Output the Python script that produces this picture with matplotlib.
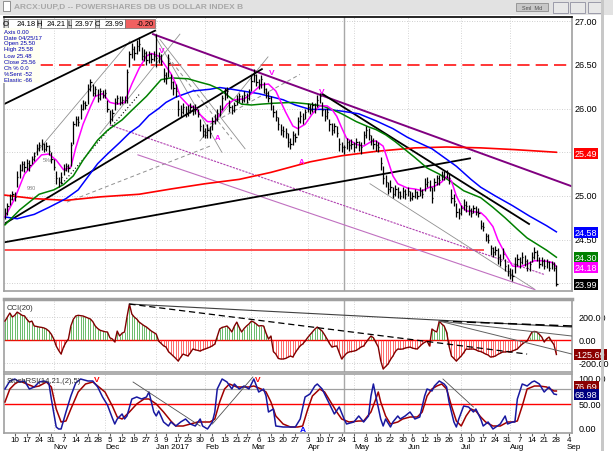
import numpy as np
import matplotlib.pyplot as plt
from matplotlib.patches import Rectangle

plt.rcParams['font.family'] = ['Liberation Sans', 'DejaVu Sans']

W, H = 613, 452

# daily bars: index 0 = 4 Oct 2016 ... 226 = 28 Aug 2017
close = [24.80, 24.88, 24.97, 25.02, 24.99, 25.22, 25.30, 25.36, 25.33, 25.38,
         25.35, 25.42, 25.46, 25.55, 25.58, 25.60, 25.54, 25.57, 25.52, 25.42,
         25.33, 25.20, 25.16, 25.22, 25.30, 25.34, 25.32, 25.58, 25.82, 25.88,
         25.85, 26.00, 26.06, 26.04, 26.22, 26.30, 26.18, 26.22, 26.12, 26.20,
         26.16, 26.18, 26.00, 25.88, 25.95, 26.08, 26.12, 26.08, 26.10, 26.10,
         26.42, 26.62, 26.68, 26.64, 26.72, 26.74, 26.60, 26.63, 26.55, 26.62,
         26.57, 26.60, 26.58, 26.60, 26.54, 26.38, 26.35, 26.52, 26.30, 26.24,
         26.20, 26.00, 25.96, 26.02, 25.95, 25.98, 26.02, 25.97, 26.00, 25.94,
         25.80, 25.74, 25.70, 25.76, 25.72, 25.86, 25.88, 25.95, 26.00, 26.12,
         26.18, 26.20, 26.02, 25.98, 26.04, 26.10, 26.14, 26.10, 26.16, 26.12,
         26.18, 26.32, 26.38, 26.30, 26.28, 26.34, 26.22, 26.18, 26.12, 26.06,
         25.96, 25.90, 25.82, 25.76, 25.74, 25.72, 25.62, 25.60, 25.70, 25.68,
         25.86, 25.92, 25.88, 25.96, 26.02, 25.98, 26.04, 26.00, 26.10, 26.14,
         25.98, 25.92, 25.96, 25.82, 25.76, 25.80, 25.72, 25.60, 25.56, 25.56,
         25.62, 25.58, 25.60, 25.56, 25.62, 25.58, 25.56, 25.70, 25.76, 25.70,
         25.64, 25.60, 25.58, 25.56, 25.38, 25.20, 25.16, 25.08, 25.10, 25.02,
         25.08, 25.04, 25.00, 25.06, 25.02, 25.06, 24.98, 25.00, 25.04, 25.00,
         25.06, 25.02, 25.14, 25.16, 25.10, 24.98, 25.16, 25.20, 25.18, 25.24,
         25.22, 25.26, 25.20, 24.98, 24.94, 24.82, 24.80, 24.86, 24.90, 24.88,
         24.84, 24.80, 24.86, 24.82, 24.80, 24.66, 24.64, 24.54, 24.50, 24.40,
         24.36, 24.38, 24.30, 24.26, 24.34, 24.20, 24.14, 24.10, 24.08, 24.22,
         24.28, 24.24, 24.30, 24.26, 24.18, 24.22, 24.30, 24.36, 24.32, 24.22,
         24.26, 24.20, 24.24, 24.18, 24.22, 24.18, 23.99]
high = [24.86, 24.92, 25.02, 25.06, 25.05, 25.28, 25.36, 25.40, 25.40, 25.42,
        25.41, 25.46, 25.50, 25.59, 25.62, 25.65, 25.61, 25.62, 25.58, 25.50,
        25.42, 25.28, 25.22, 25.27, 25.36, 25.38, 25.37, 25.62, 25.86, 25.92,
        25.91, 26.05, 26.10, 26.09, 26.28, 26.34, 26.28, 26.26, 26.22, 26.24,
        26.21, 26.22, 26.10, 25.98, 26.00, 26.12, 26.15, 26.14, 26.14, 26.14,
        26.45, 26.66, 26.75, 26.72, 26.78, 26.82, 26.70, 26.68, 26.66, 26.66,
        26.64, 26.66, 26.85, 26.65, 26.62, 26.46, 26.42, 26.62, 26.40, 26.32,
        26.28, 26.10, 26.04, 26.06, 26.03, 26.04, 26.06, 26.04, 26.05, 26.00,
        25.88, 25.82, 25.78, 25.82, 25.80, 25.90, 25.94, 26.00, 26.04, 26.16,
        26.24, 26.25, 26.10, 26.04, 26.08, 26.15, 26.18, 26.16, 26.20, 26.18,
        26.22, 26.38, 26.45, 26.40, 26.34, 26.38, 26.30, 26.24, 26.20, 26.14,
        26.04, 25.98, 25.90, 25.82, 25.80, 25.78, 25.72, 25.66, 25.74, 25.72,
        25.90, 25.97, 25.95, 26.00, 26.06, 26.05, 26.08, 26.06, 26.15, 26.18,
        26.08, 26.00, 26.01, 25.88, 25.84, 25.84, 25.80, 25.66, 25.62, 25.58,
        25.66, 25.64, 25.65, 25.62, 25.66, 25.63, 25.62, 25.74, 25.80, 25.78,
        25.70, 25.66, 25.64, 25.62, 25.44, 25.34, 25.24, 25.16, 25.18, 25.10,
        25.12, 25.10, 25.06, 25.10, 25.08, 25.10, 25.06, 25.04, 25.08, 25.06,
        25.10, 25.08, 25.20, 25.22, 25.18, 25.10, 25.20, 25.24, 25.24, 25.28,
        25.28, 25.30, 25.26, 25.08, 25.02, 24.92, 24.86, 24.90, 24.96, 24.94,
        24.90, 24.86, 24.90, 24.88, 24.86, 24.72, 24.70, 24.58, 24.56, 24.44,
        24.42, 24.43, 24.40, 24.34, 24.40, 24.28, 24.22, 24.18, 24.16, 24.30,
        24.34, 24.30, 24.36, 24.32, 24.28, 24.26, 24.36, 24.42, 24.38, 24.30,
        24.30, 24.28, 24.28, 24.26, 24.26, 24.24, 24.21]
low = [24.74, 24.78, 24.90, 24.95, 24.94, 25.10, 25.20, 25.28, 25.27, 25.30,
       25.29, 25.36, 25.40, 25.47, 25.52, 25.53, 25.50, 25.52, 25.47, 25.38,
       25.30, 25.14, 25.10, 25.14, 25.24, 25.28, 25.27, 25.34, 25.60, 25.80,
       25.80, 25.88, 25.98, 25.99, 26.05, 26.20, 26.14, 26.14, 26.08, 26.10,
       26.12, 26.12, 25.96, 25.82, 25.86, 25.98, 26.05, 26.04, 26.05, 26.06,
       26.06, 26.48, 26.58, 26.56, 26.62, 26.66, 26.55, 26.54, 26.50, 26.52,
       26.52, 26.54, 26.47, 26.52, 26.50, 26.30, 26.28, 26.36, 26.22, 26.16,
       26.13, 25.92, 25.90, 25.94, 25.90, 25.92, 25.95, 25.93, 25.94, 25.90,
       25.74, 25.68, 25.66, 25.66, 25.66, 25.76, 25.82, 25.86, 25.92, 25.98,
       26.10, 26.12, 25.96, 25.94, 25.96, 26.04, 26.08, 26.06, 26.08, 26.06,
       26.10, 26.20, 26.30, 26.26, 26.22, 26.24, 26.18, 26.12, 26.08, 25.98,
       25.90, 25.86, 25.76, 25.70, 25.68, 25.66, 25.56, 25.54, 25.58, 25.62,
       25.70, 25.84, 25.82, 25.88, 25.96, 25.94, 25.96, 25.95, 26.02, 26.06,
       25.92, 25.86, 25.88, 25.74, 25.70, 25.72, 25.68, 25.52, 25.50, 25.48,
       25.54, 25.52, 25.54, 25.50, 25.55, 25.52, 25.48, 25.60, 25.66, 25.64,
       25.58, 25.54, 25.52, 25.50, 25.30, 25.14, 25.10, 25.02, 25.04, 24.98,
       25.00, 24.98, 24.96, 24.98, 24.96, 25.00, 24.94, 24.95, 24.98, 24.96,
       25.00, 24.98, 25.06, 25.10, 25.06, 24.92, 25.06, 25.12, 25.12, 25.18,
       25.18, 25.20, 25.14, 24.92, 24.88, 24.76, 24.74, 24.78, 24.84, 24.82,
       24.78, 24.76, 24.80, 24.78, 24.76, 24.62, 24.60, 24.48, 24.46, 24.32,
       24.30, 24.32, 24.22, 24.20, 24.28, 24.14, 24.08, 24.05, 24.03, 24.12,
       24.20, 24.18, 24.22, 24.20, 24.14, 24.14, 24.24, 24.28, 24.26, 24.18,
       24.20, 24.16, 24.18, 24.14, 24.16, 24.14, 23.97]

# moving averages at sample days
fast_i = [0, 4, 8, 12, 15, 18, 21, 24, 27, 29, 32, 35, 37, 40, 43, 46, 49, 52, 55, 58,
          60, 63, 65, 68, 70, 72, 75, 78, 80, 83, 86, 88, 91, 94, 98, 101, 105, 108, 111, 113,
          115, 118, 120, 123, 126, 129, 132, 134, 136, 138, 140, 144, 147, 150, 152, 155, 157, 159, 161, 165,
          168, 171, 174, 176, 179, 181, 183, 185, 187, 189, 192, 195, 197, 200, 202, 205, 208, 211, 214, 217,
          220, 223, 225, 226]
fast = [24.76, 24.97, 25.25, 25.38, 25.47, 25.48, 25.41, 25.30, 25.33, 25.55, 25.82, 26.02, 26.14, 26.17, 26.07, 26.05, 26.07, 26.28, 26.46, 26.60,
        26.63, 26.60, 26.52, 26.40, 26.28, 26.13, 26.04, 26.01, 25.93, 25.85, 25.85, 25.93, 26.05, 26.10, 26.11, 26.17, 26.27, 26.28, 26.20, 26.08,
        25.96, 25.80, 25.77, 25.82, 25.94, 26.03, 26.03, 25.99, 25.91, 25.78, 25.66, 25.59, 25.57, 25.62, 25.63, 25.57, 25.40, 25.23, 25.14, 25.09,
        25.08, 25.06, 25.10, 25.11, 25.16, 25.22, 25.17, 25.00, 24.89, 24.83, 24.82, 24.81, 24.76, 24.65, 24.50, 24.34, 24.20, 24.19, 24.22, 24.26,
        24.26, 24.25, 24.23, 24.19]
mid_i = [0, 6, 14, 20, 24, 28, 32, 38, 42, 48, 52, 58, 64, 68, 75, 80, 84, 88, 93, 97,
         101, 105, 110, 118, 125, 130, 134, 138, 144, 149, 152, 156, 160, 164, 168, 173, 178, 183, 188, 195,
         200, 205, 210, 214, 218, 222, 226]
mid = [24.67, 24.84, 25.02, 25.07, 25.13, 25.23, 25.41, 25.64, 25.75, 25.87, 25.98, 26.14, 26.33, 26.35, 26.34, 26.30, 26.27, 26.22, 26.11, 26.05,
       26.04, 26.05, 26.06, 26.07, 26.05, 26.03, 25.99, 25.94, 25.85, 25.79, 25.76, 25.70, 25.62, 25.53, 25.44, 25.32, 25.25, 25.16, 25.06, 24.98,
       24.87, 24.75, 24.62, 24.52, 24.45, 24.38, 24.30]
slow_i = [0, 5, 12, 18, 25, 30, 34, 38, 42, 47, 51, 55, 59, 63, 66, 70, 77, 84, 88, 93,
          104, 114, 119, 125, 132, 138, 145, 152, 159, 165, 168, 175, 181, 185, 191, 195, 201, 208, 215, 222,
          226]
slow = [24.76, 24.74, 24.79, 24.87, 24.97, 25.07, 25.22, 25.37, 25.48, 25.61, 25.72, 25.80, 25.92, 26.00, 26.07, 26.13, 26.20, 26.22, 26.24, 26.22,
        26.17, 26.10, 26.04, 25.99, 25.99, 25.97, 25.94, 25.86, 25.77, 25.67, 25.63, 25.54, 25.42, 25.34, 25.19, 25.10, 25.00, 24.89, 24.77, 24.66,
        24.59]
long_i = [0, 12, 25, 39, 55, 68, 82, 96, 109, 125, 138, 152, 168, 181, 195, 209, 226]
long_ma = [25.01, 24.97, 24.95, 24.99, 25.02, 25.08, 25.14, 25.19, 25.27, 25.39, 25.46, 25.51, 25.55, 25.56, 25.55, 25.53, 25.50]

# CCI(20), one value per day
cci = [165, 200, 235, 200, 215, 243, 230, 215, 210, 180, 156, 165, 122, 118, 113, 110, 105, 95, 78, 50,
       9, -52, -90, -122, -61, -20, 9, 122, 180, 209, 215, 212, 209, 200, 190, 183, 160, 122, 100, 85,
       78, 72, 70, 20, 9, -17, 78, 35, 60, 70, 200, 313, 226, 200, 183, 156, 140, 125, 113, 95,
       78, 65, 52, -9, -30, -50, -61, -100, -120, -139, -160, -183, -150, -122, -130, -139, -110, -78, -85, -90,
       -96, -85, -78, -70, -61, -50, -35, 30, 96, 110, 115, 122, 100, 70, 120, 156, 110, 70, 100, 122,
       140, 165, 156, 140, 122, 125, 122, 60, 9, 35, -100, -122, -160, -165, -165, -160, -150, -139, -148, -110,
       -78, -50, -35, -10, 20, 45, 70, 95, 113, 95, 78, 45, 9, -30, -61, -55, -52, -110, -165, -140,
       -115, -104, -100, -96, -90, -75, -60, -52, -20, 9, 35, 20, -20, -61, -180, -252, -230, -209, -170, -139,
       -100, -78, -80, -78, -70, -65, -61, -70, -75, -78, -55, -35, -20, -9, -52, 96, 80, 70, 165, 140,
       122, 70, -52, -139, -160, -183, -160, -139, -110, -78, -80, -78, -78, -85, -96, -100, -110, -122, -130, -148,
       -145, -139, -125, -115, -104, -104, -100, -104, -95, -85, -78, -55, -35, -20, -9, 30, 70, 75, 70, 50,
       26, -17, 10, 26, -10, -40, -125.69]

# Stoch RSI, read at sample days
k_i = [0, 2, 4, 6, 8, 10, 12, 14, 16, 18, 19, 21, 22, 23, 25, 27, 29, 31, 34, 36,
       38, 40, 42, 44, 45, 46, 48, 49, 50, 52, 54, 56, 58, 59, 61, 62, 63, 65, 67, 68,
       70, 72, 74, 76, 78, 80, 81, 83, 85, 86, 87, 89, 91, 93, 94, 96, 98, 100, 102, 104,
       106, 107, 108, 110, 111, 114, 117, 119, 121, 123, 125, 127, 128, 130, 132, 134, 135, 137, 139, 140,
       143, 145, 147, 149, 150, 151, 152, 154, 155, 156, 158, 159, 161, 162, 164, 166, 168, 170, 172, 173,
       175, 176, 178, 180, 181, 182, 184, 185, 186, 188, 190, 192, 193, 195, 196, 198, 200, 203, 205, 206,
       208, 209, 210, 212, 214, 216, 217, 219, 221, 223, 225, 226]
k_val = [80, 96, 100, 94, 96, 80, 84, 94, 96, 92, 60, 4, 0, 0, 34, 66, 92, 100, 96, 96,
         84, 64, 48, 22, 10, 20, 30, 20, 26, 60, 64, 60, 64, 74, 34, 26, 36, 14, 6, 14,
         6, 14, 20, 10, 6, 20, 6, 0, 14, 34, 80, 100, 94, 80, 90, 80, 86, 80, 100, 74,
         80, 66, 34, 40, 6, 4, 4, 4, 20, 64, 70, 86, 90, 80, 60, 40, 30, 44, 20, 10,
         14, 26, 14, 26, 66, 90, 66, 20, 6, 20, 4, 14, 26, 20, 26, 34, 20, 24, 66, 80,
         76, 86, 96, 90, 84, 54, 14, 4, 20, 46, 44, 34, 40, 20, 6, 14, 0, 10, 26, 10,
         14, 14, 60, 90, 86, 94, 96, 90, 74, 84, 70, 69]
d_i = [0, 2, 4, 6, 9, 12, 14, 17, 19, 21, 23, 25, 27, 30, 33, 36, 38, 41, 44, 46,
       48, 51, 54, 57, 59, 62, 65, 68, 70, 73, 76, 79, 81, 84, 86, 88, 90, 92, 95, 98,
       100, 102, 105, 107, 109, 111, 114, 117, 120, 122, 124, 126, 129, 131, 134, 136, 138, 141, 145, 147,
       150, 152, 153, 154, 156, 158, 161, 163, 166, 169, 171, 173, 175, 177, 179, 181, 183, 185, 187, 189,
       191, 193, 195, 197, 200, 203, 206, 208, 210, 212, 214, 217, 219, 222, 225, 226]
d_val = [54, 80, 90, 96, 90, 84, 86, 94, 84, 40, 14, 16, 40, 74, 90, 94, 86, 74, 46, 24,
         20, 34, 50, 60, 60, 50, 34, 16, 6, 6, 10, 14, 14, 14, 20, 54, 80, 90, 84, 84,
         84, 86, 80, 74, 54, 26, 10, 4, 4, 6, 38, 66, 80, 74, 50, 34, 20, 14, 16, 16,
         34, 60, 74, 54, 26, 10, 14, 20, 24, 24, 34, 66, 80, 86, 90, 80, 46, 16, 6, 26,
         40, 36, 24, 14, 6, 6, 14, 14, 16, 46, 80, 86, 86, 84, 76, 76]

# date axis
day_ticks = [4, 9, 14, 19, 24, 29, 34, 38, 43, 48, 53, 58, 62, 66, 71, 75, 80, 85, 90, 95,
             99, 104, 109, 114, 119, 124, 129, 133, 138, 143, 148, 153, 158, 163, 167, 172, 177, 182, 187, 191,
             196, 201, 206, 211, 216, 221, 226, 231]
day_labels = ['10', '17', '24', '31', '7', '14', '21', '28', '5', '12', '19', '27', '3', '9', '17', '23', '30', '6', '13', '21',
              '27', '6', '13', '20', '27', '3', '10', '17', '24', '1', '8', '16', '22', '30', '6', '12', '19', '26', '3', '10',
              '17', '24', '31', '7', '14', '21', '28', '4']
month_pos = [20, 41, 62, 82, 101, 124, 143, 165, 187, 207, 230]
month_names = ['Nov', 'Dec', 'Jan 2017', 'Feb', 'Mar', 'Apr', 'May', 'Jun', 'Jul', 'Aug', 'Sep']

# drawn trendlines: (x0, y0, x1, y1)
thick_black = [(-0.4, 26.05, 61.5, 26.89), (-0.4, 24.47, 190.6, 25.43),
               (-0.4, 24.68, 105.3, 26.45), (129.9, 26.17, 214.8, 24.68)]
purple_line = (60.7, 26.85, 232.4, 25.11)
violet_lines = [(43, 25.81, 221.3, 24.10), (54.5, 25.47, 217.2, 23.93)]
gray_lines = [(12.3, 25.48, 51.2, 26.77), (38.9, 25.71, 71.7, 26.85), (61.5, 26.83, 88.9, 25.50),
              (63.5, 26.79, 98.4, 25.54), (79.9, 25.63, 107.8, 26.59), (149.6, 25.14, 216.8, 23.94)]
gray_dashed = [(66.8, 26.59, 93.0, 25.65), (84.0, 25.82, 120.9, 26.39), (25.4, 24.93, 84.0, 25.57)]
black_dotted = [(23.4, 25.14, 55.3, 26.17)]
cci_lines = [(51, 313, 232.4, 113), (51, 313, 214, -122), (178, 165, 232.4, 122),
             (178, 165, 232.4, 35), (178, 165, 232.4, -122)]
stoch_lines = [(52.5, 94, 80, 6), (85, 10, 101.6, 104), (179.5, 100, 192, 44)]

x = np.arange(len(close))

fig = plt.figure(figsize=(W / 100, H / 100), dpi=100)
fig.patch.set_facecolor('white')


def fig_rect(x0, y0, x1, y1, **kw):
    fig.add_artist(Rectangle((x0 / W, 1 - y1 / H), (x1 - x0) / W, (y1 - y0) / H,
                             transform=fig.transFigure, **kw))


def fig_text(xp, yp, s, **kw):
    fig.text(xp / W, 1 - yp / H, s, **kw)


ax = fig.add_axes([4 / W, 1 - 292 / H, 568 / W, 274 / H])
ax_c = fig.add_axes([4 / W, 1 - 373 / H, 568 / W, 73 / H], sharex=ax)
ax_s = fig.add_axes([4 / W, 1 - 434 / H, 568 / W, 59 / H], sharex=ax)

ax.set_xlim(-0.4, 232.4)
ax.set_ylim(23.914, 27.046)
ax_c.set_ylim(-278, 357)
ax_s.set_ylim(-8, 110)

for a in (ax, ax_c, ax_s):
    a.set_yticks([])
    for s in a.spines.values():
        s.set_color('#A0A0A0')
        s.set_linewidth(1.2)
    for m in month_pos[:-1]:
        a.axvline(m, color='#C8C8C8', lw=0.6, ls=(0, (1, 2)), zorder=0)
    a.axvline(139, color='#A8A8A8', lw=1.0, zorder=1)
ax.spines['top'].set_color('black')
ax_c.spines['top'].set_linewidth(2.5)

# ---- price panel
for v in [24.0, 24.5, 25.0, 25.5, 26.0, 27.0]:
    ax.axhline(v, color='#C0C0C0', lw=0.6, ls=(0, (1, 2)), zorder=0)
ax.axhline(26.5, color='#FF0000', lw=1.1, dashes=(8, 4), zorder=2)
ax.hlines(24.385, -0.4, 196.5, color='#FF5050', lw=1.4, zorder=2)

for x0, y0, x1, y1 in gray_lines:
    ax.plot([x0, x1], [y0, y1], color='#909090', lw=0.6, zorder=2)
for x0, y0, x1, y1 in gray_dashed:
    ax.plot([x0, x1], [y0, y1], color='#909090', lw=0.7, ls=(0, (4, 3)), zorder=2)
for x0, y0, x1, y1 in black_dotted:
    ax.plot([x0, x1], [y0, y1], color='black', lw=0.8, ls=(0, (1, 2)), zorder=2)
ax.plot(violet_lines[0][::2], violet_lines[0][1::2], color='#B040B0', lw=0.8, ls=(0, (2, 1)), zorder=2)
ax.plot(violet_lines[1][::2], violet_lines[1][1::2], color='#C070C0', lw=0.8, zorder=2)
ax.plot(purple_line[::2], purple_line[1::2], color='#800080', lw=1.4, zorder=2)
for x0, y0, x1, y1 in thick_black:
    ax.plot([x0, x1], [y0, y1], color='black', lw=1.3, zorder=2)

ax.plot(long_i, long_ma, color='#FF0000', lw=1.2, zorder=4)
ax.plot(slow_i, slow, color='#0000FF', lw=1.1, zorder=4)
ax.plot(mid_i, mid, color='#008000', lw=1.1, zorder=4)
ax.plot(fast_i, fast, color='#FF00FF', lw=1.1, zorder=4)

ax.vlines(x, low, high, color='black', lw=0.9, zorder=5)
ax.hlines(close, x, x + 0.5, color='black', lw=0.9, zorder=5)

for xi, yi in [(64.3, 26.66), (109.4, 26.41), (129.9, 26.20)]:
    ax.text(xi, yi, 'V', color='#FF00FF', fontsize=6, fontweight='bold', ha='center', va='center', zorder=6)
for xi, yi in [(87.3, 25.67), (121.7, 25.39)]:
    ax.text(xi, yi, 'A', color='#FF00FF', fontsize=5.5, fontweight='bold', ha='center', va='center', zorder=6)
ax.text(11, 25.10, '980', color='#808080', fontsize=4, ha='center', va='center')
ax.text(17.5, 25.42, '5%r', color='#808080', fontsize=4, ha='center', va='center')

ytr = ax.get_yaxis_transform()
for v, s in [(27.0, '27.00'), (26.5, '26.50'), (26.0, '26.00'), (25.0, '25.00'), (24.5, '24.50')]:
    ax.text(1.005, v, s, transform=ytr, fontsize=6.5, va='center', ha='left', clip_on=False)
for v, s, c in [(25.49, '25.49', '#FF0000'), (24.58, '24.58', '#0000FF'), (24.30, '24.30', '#008000'),
                (24.18, '24.18', '#FF00FF'), (23.99, '23.99', 'black')]:
    ax.text(1.005, v, s, transform=ytr, fontsize=6.5, va='center', ha='left', color='white', clip_on=False,
            bbox=dict(boxstyle='square,pad=0.12', fc=c, ec='none'))
ax.tick_params(axis='x', bottom=False, labelbottom=False)

# ---- CCI panel
ax_c.axhline(0, color='#FF0000', lw=1.0, zorder=2)
for v in [200, -200]:
    ax_c.axhline(v, color='#C0C0C0', lw=0.6, ls=(0, (1, 2)), zorder=0)
ax_c.vlines(x, 0, cci, colors=['#30A030' if v > 0 else '#FF3030' for v in cci], lw=0.5, zorder=2)
ax_c.plot(x, cci, color='#800000', lw=1.0, zorder=3)
for i, (x0, y0, x1, y1) in enumerate(cci_lines):
    style = [dict(color='#404040', lw=0.8), dict(color='black', lw=0.9, ls=(0, (5, 3))),
             dict(color='black', lw=1.1, ls=(0, (6, 3))), dict(color='#606060', lw=0.7),
             dict(color='#606060', lw=0.7)][i]
    ax_c.plot([x0, x1], [y0, y1], zorder=4, **style)
ax_c.text(0.004, 0.93, 'CCI(20)', transform=ax_c.transAxes, fontsize=5.5, color='#303030', va='top')
ytr = ax_c.get_yaxis_transform()
for v, s in [(200, '200.00'), (0, '0.00'), (-200, '-200.00')]:
    ax_c.text(1.012, v, s, transform=ytr, fontsize=6.5, va='center', ha='left', clip_on=False)
ax_c.text(1.005, cci[-1], '%.2f' % cci[-1], transform=ytr, fontsize=6.5, va='center', ha='left',
          color='white', clip_on=False, bbox=dict(boxstyle='square,pad=0.12', fc='#8B0000', ec='none'))
ax_c.tick_params(axis='x', bottom=False, labelbottom=False)

# ---- Stoch RSI panel
ax_s.axhline(80, color='#A0A0A0', lw=0.9, zorder=1)
ax_s.axhline(50, color='#FF0000', lw=1.0, zorder=1)
ax_s.plot(d_i, d_val, color='#A00000', lw=1.1, zorder=3)
ax_s.plot(k_i, k_val, color='#1818A0', lw=1.1, zorder=3)
for x0, y0, x1, y1 in stoch_lines:
    ax_s.plot([x0, x1], [y0, y1], color='#505050', lw=0.6, zorder=4)
for xi, yi in [(37.7, 98), (103.7, 100)]:
    ax_s.text(xi, yi, 'V', color='#FF0000', fontsize=6, fontweight='bold', ha='center', va='center', zorder=5)
ax_s.text(122, -2, 'A', color='#0000FF', fontsize=6, fontweight='bold', ha='center', va='center', zorder=5)
ax_s.text(0.004, 0.95, 'StochRSI(14,21,(2),5)', transform=ax_s.transAxes, fontsize=5.5, color='#303030', va='top')
ytr = ax_s.get_yaxis_transform()
for v, s in [(100, '100.00'), (50, '50.00'), (0, '0.00')]:
    ax_s.text(1.012, v, s, transform=ytr, fontsize=6.5, va='center', ha='left', clip_on=False)
ax_s.text(1.005, 84, '76.69', transform=ytr, fontsize=6.5, va='center', ha='left', color='white',
          clip_on=False, bbox=dict(boxstyle='square,pad=0.12', fc='#8B0000', ec='none'))
ax_s.text(1.005, 69, '68.98', transform=ytr, fontsize=6.5, va='center', ha='left', color='white',
          clip_on=False, bbox=dict(boxstyle='square,pad=0.12', fc='#000080', ec='none'))

ax_s.set_xticks(day_ticks)
ax_s.set_xticklabels(day_labels)
ax_s.tick_params(axis='x', length=2, labelsize=5.8, pad=0.5, color='#606060')
xtr = ax_s.get_xaxis_transform()
for m, s in zip(month_pos, month_names):
    ax_s.text(m, -0.235, s, transform=xtr, fontsize=5.8, ha='left', va='center', clip_on=False)

# ---- window chrome
fig_rect(0, 0, 613, 16, fc='#E2E2E2', ec='none')
fig_rect(3, 2, 10, 12, fc='white', ec='#808080', lw=0.6)
fig_text(14, 7, 'ARCX:UUP,D -- POWERSHARES DB US DOLLAR INDEX B', fontsize=6, color='#A8A8A8',
         fontweight='bold', va='center')
fig_rect(516, 4, 548, 12, fc='#C8C8C8', ec='#808080', lw=0.5)
fig_text(532, 8, 'Sml  Md', fontsize=4, color='#505050', ha='center', va='center')
for bx in [553, 570, 588]:
    fig_rect(bx, 3, bx + 15, 14, fc='#E8E8E8', ec='#9090A0', lw=0.6)
fig_rect(601, 0, 604, 452, fc='#C8C8C8', ec='none')

strip = [(4, 8, 'O', None), (8, 37, '24.18', 'white'), (37, 41, 'H', None), (41, 67, '24.21', 'white'),
         (67, 71, 'L', None), (71, 95, '23.97', 'white'), (95, 99, 'C', None), (99, 125, '23.99', 'white')]
for x0, x1, s, fc in strip:
    fig_rect(x0, 20, x1, 29, fc=fc if fc else '#D8D8D8', ec='#707070', lw=0.5)
    fig_text(x1 - 1 if fc else (x0 + x1) / 2, 24.8, s, fontsize=5.5, ha='right' if fc else 'center', va='center')
fig_rect(125, 20, 155, 29, fc='#F06060', ec='#707070', lw=0.5)
fig_text(154, 24.8, '-0.20', fontsize=5.5, ha='right', va='center', color='black')

fig_rect(3, 29, 40, 84, fc='#FFFFF2', ec='none')
info = ['Axis 0.00', 'Date 04/25/17', 'Open 25.50', 'High 25.58', 'Low 25.48', 'Close 25.56',
        'Ch % 0.0', '%Sent -52', 'Elastic -66']
for k, s in enumerate(info):
    fig_text(4, 32 + 6 * k, s, fontsize=4.3, color='#0000B0', va='center')

fig.savefig('out.png', dpi=100)
